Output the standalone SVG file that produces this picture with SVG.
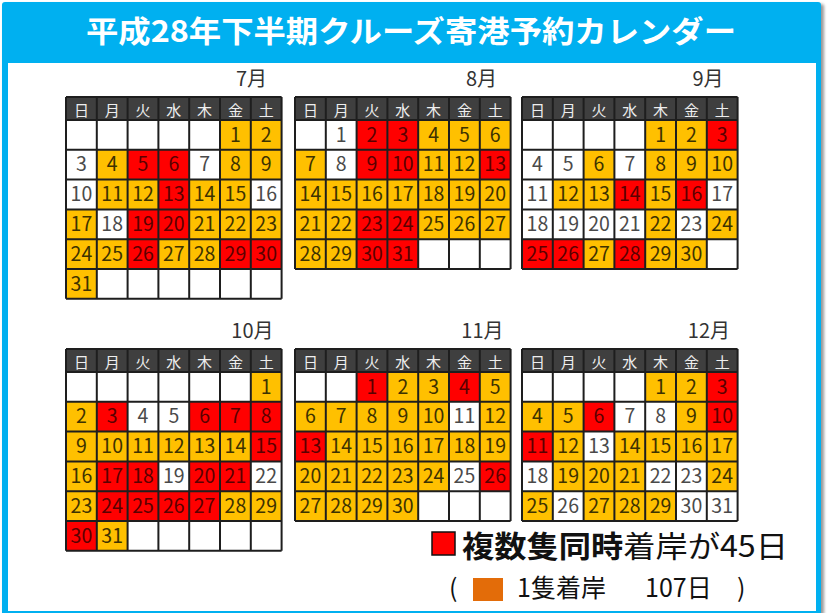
<svg xmlns="http://www.w3.org/2000/svg" xmlns:xlink="http://www.w3.org/1999/xlink" width="827" height="613" viewBox="0 0 827 613">
<style>
.o{fill:#FFC000}
.r{fill:#FF0000}
.bg{fill:#fff}
.gl{fill:none;stroke:#1e1e1e;stroke-width:2}
.hd{font-family:"Noto Sans CJK JP",sans-serif;font-size:15px;fill:#eeeeee;text-anchor:middle}
.tw,.to,.tr{font-family:"Noto Sans CJK JP",sans-serif;font-size:19.5px;text-anchor:middle}
.tw{fill:#4a4a4a}
.to{fill:#3d3200}
.tr{fill:#5a0000}
.mo{font-family:"Noto Sans CJK JP",sans-serif;font-size:20px;fill:#333;text-anchor:end}
.lg{font-family:"Noto Sans CJK JP",sans-serif;fill:#111}
</style>
<defs>
<g id="hdr"><rect width="215.6" height="23" fill="#3f3f3f"/><text class="hd" x="15.4 46.2 77 107.8 138.6 169.4 200.2" y="18.5">日月火水木金土</text></g>
<path id="g5" class="gl" d="M0 0V172M30.8 0V172M61.6 0V172M92.4 0V172M123.2 0V172M154 0V172M184.8 0V172M215.6 0V172M0 0H215.6M0 23H215.6M0 52.8H215.6M0 82.6H215.6M0 112.4H215.6M0 142.2H215.6M0 172H215.6"/>
<path id="g6" class="gl" d="M0 0V201.8M30.8 0V201.8M61.6 0V201.8M92.4 0V201.8M123.2 0V201.8M154 0V201.8M184.8 0V201.8M215.6 0V201.8M0 0H215.6M0 23H215.6M0 52.8H215.6M0 82.6H215.6M0 112.4H215.6M0 142.2H215.6M0 172H215.6M0 201.8H215.6"/>
<filter id="sh" x="-5%" y="-5%" width="110%" height="110%"><feGaussianBlur stdDeviation="1.5"/></filter>
</defs>

<g id="frame">
<rect x="4" y="4" width="820" height="612" rx="3" fill="#9a9a9a" filter="url(#sh)"/>
<rect x="2" y="2" width="819" height="615" rx="3" fill="#00B0F0"/>
<rect x="8" y="63" width="808" height="548" fill="#fff"/>
<text x="411" y="42" text-anchor="middle" font-family="Noto Sans CJK JP, sans-serif" font-weight="bold" font-size="30" fill="#fff" textLength="650" lengthAdjust="spacingAndGlyphs">平成28年下半期クルーズ寄港予約カレンダー</text>
</g>

<g id="jul">
<text class="mo" x="267" y="86">7月</text>
<g transform="translate(66,97)">
<rect class="bg" width="215.6" height="201.8"/>
<use xlink:href="#hdr"/>
<rect class="o" x="154" y="23" width="61.6" height="29.8"/>
<rect class="o" x="30.8" y="52.8" width="30.8" height="29.8"/>
<rect class="r" x="61.6" y="52.8" width="61.6" height="29.8"/>
<rect class="o" x="154" y="52.8" width="61.6" height="29.8"/>
<rect class="o" x="30.8" y="82.6" width="61.6" height="29.8"/>
<rect class="r" x="92.4" y="82.6" width="30.8" height="29.8"/>
<rect class="o" x="123.2" y="82.6" width="61.6" height="29.8"/>
<rect class="o" x="0" y="112.4" width="30.8" height="29.8"/>
<rect class="r" x="61.6" y="112.4" width="61.6" height="29.8"/>
<rect class="o" x="123.2" y="112.4" width="92.4" height="29.8"/>
<rect class="o" x="0" y="142.2" width="61.6" height="29.8"/>
<rect class="r" x="61.6" y="142.2" width="30.8" height="29.8"/>
<rect class="o" x="92.4" y="142.2" width="61.6" height="29.8"/>
<rect class="r" x="154" y="142.2" width="61.6" height="29.8"/>
<rect class="o" x="0" y="172" width="30.8" height="29.8"/>
<use xlink:href="#g6"/>
<text class="tw"><tspan x="15.4" y="74.4">3</tspan><tspan x="138.6" y="74.4">7</tspan><tspan x="15.4" y="104.2">10</tspan><tspan x="200.2" y="104.2">16</tspan><tspan x="46.2" y="134">18</tspan></text>
<text class="to"><tspan x="169.4" y="44.6">1</tspan><tspan x="200.2" y="44.6">2</tspan><tspan x="46.2" y="74.4">4</tspan><tspan x="169.4" y="74.4">8</tspan><tspan x="200.2" y="74.4">9</tspan><tspan x="46.2" y="104.2">11</tspan><tspan x="77" y="104.2">12</tspan><tspan x="138.6" y="104.2">14</tspan><tspan x="169.4" y="104.2">15</tspan><tspan x="15.4" y="134">17</tspan><tspan x="138.6" y="134">21</tspan><tspan x="169.4" y="134">22</tspan><tspan x="200.2" y="134">23</tspan><tspan x="15.4" y="163.8">24</tspan><tspan x="46.2" y="163.8">25</tspan><tspan x="107.8" y="163.8">27</tspan><tspan x="138.6" y="163.8">28</tspan><tspan x="15.4" y="193.6">31</tspan></text>
<text class="tr"><tspan x="77" y="74.4">5</tspan><tspan x="107.8" y="74.4">6</tspan><tspan x="107.8" y="104.2">13</tspan><tspan x="77" y="134">19</tspan><tspan x="107.8" y="134">20</tspan><tspan x="77" y="163.8">26</tspan><tspan x="169.4" y="163.8">29</tspan><tspan x="200.2" y="163.8">30</tspan></text>
</g>
</g>

<g id="aug">
<text class="mo" x="497" y="86">8月</text>
<g transform="translate(295,97)">
<rect class="bg" width="215.6" height="172"/>
<use xlink:href="#hdr"/>
<rect class="r" x="61.6" y="23" width="61.6" height="29.8"/>
<rect class="o" x="123.2" y="23" width="92.4" height="29.8"/>
<rect class="o" x="0" y="52.8" width="30.8" height="29.8"/>
<rect class="r" x="61.6" y="52.8" width="61.6" height="29.8"/>
<rect class="o" x="123.2" y="52.8" width="61.6" height="29.8"/>
<rect class="r" x="184.8" y="52.8" width="30.8" height="29.8"/>
<rect class="o" x="0" y="82.6" width="215.6" height="29.8"/>
<rect class="o" x="0" y="112.4" width="61.6" height="29.8"/>
<rect class="r" x="61.6" y="112.4" width="61.6" height="29.8"/>
<rect class="o" x="123.2" y="112.4" width="92.4" height="29.8"/>
<rect class="o" x="0" y="142.2" width="61.6" height="29.8"/>
<rect class="r" x="61.6" y="142.2" width="61.6" height="29.8"/>
<use xlink:href="#g5"/>
<text class="tw"><tspan x="46.2" y="44.6">1</tspan><tspan x="46.2" y="74.4">8</tspan></text>
<text class="to"><tspan x="138.6" y="44.6">4</tspan><tspan x="169.4" y="44.6">5</tspan><tspan x="200.2" y="44.6">6</tspan><tspan x="15.4" y="74.4">7</tspan><tspan x="138.6" y="74.4">11</tspan><tspan x="169.4" y="74.4">12</tspan><tspan x="15.4" y="104.2">14</tspan><tspan x="46.2" y="104.2">15</tspan><tspan x="77" y="104.2">16</tspan><tspan x="107.8" y="104.2">17</tspan><tspan x="138.6" y="104.2">18</tspan><tspan x="169.4" y="104.2">19</tspan><tspan x="200.2" y="104.2">20</tspan><tspan x="15.4" y="134">21</tspan><tspan x="46.2" y="134">22</tspan><tspan x="138.6" y="134">25</tspan><tspan x="169.4" y="134">26</tspan><tspan x="200.2" y="134">27</tspan><tspan x="15.4" y="163.8">28</tspan><tspan x="46.2" y="163.8">29</tspan></text>
<text class="tr"><tspan x="77" y="44.6">2</tspan><tspan x="107.8" y="44.6">3</tspan><tspan x="77" y="74.4">9</tspan><tspan x="107.8" y="74.4">10</tspan><tspan x="200.2" y="74.4">13</tspan><tspan x="77" y="134">23</tspan><tspan x="107.8" y="134">24</tspan><tspan x="77" y="163.8">30</tspan><tspan x="107.8" y="163.8">31</tspan></text>
</g>
</g>

<g id="sep">
<text class="mo" x="723.5" y="86">9月</text>
<g transform="translate(522,97)">
<rect class="bg" width="215.6" height="172"/>
<use xlink:href="#hdr"/>
<rect class="o" x="123.2" y="23" width="61.6" height="29.8"/>
<rect class="r" x="184.8" y="23" width="30.8" height="29.8"/>
<rect class="o" x="61.6" y="52.8" width="30.8" height="29.8"/>
<rect class="o" x="123.2" y="52.8" width="92.4" height="29.8"/>
<rect class="o" x="30.8" y="82.6" width="61.6" height="29.8"/>
<rect class="r" x="92.4" y="82.6" width="30.8" height="29.8"/>
<rect class="o" x="123.2" y="82.6" width="30.8" height="29.8"/>
<rect class="r" x="154" y="82.6" width="30.8" height="29.8"/>
<rect class="o" x="123.2" y="112.4" width="30.8" height="29.8"/>
<rect class="o" x="184.8" y="112.4" width="30.8" height="29.8"/>
<rect class="r" x="0" y="142.2" width="61.6" height="29.8"/>
<rect class="o" x="61.6" y="142.2" width="30.8" height="29.8"/>
<rect class="r" x="92.4" y="142.2" width="30.8" height="29.8"/>
<rect class="o" x="123.2" y="142.2" width="61.6" height="29.8"/>
<use xlink:href="#g5"/>
<text class="tw"><tspan x="15.4" y="74.4">4</tspan><tspan x="46.2" y="74.4">5</tspan><tspan x="107.8" y="74.4">7</tspan><tspan x="15.4" y="104.2">11</tspan><tspan x="200.2" y="104.2">17</tspan><tspan x="15.4" y="134">18</tspan><tspan x="46.2" y="134">19</tspan><tspan x="77" y="134">20</tspan><tspan x="107.8" y="134">21</tspan><tspan x="169.4" y="134">23</tspan></text>
<text class="to"><tspan x="138.6" y="44.6">1</tspan><tspan x="169.4" y="44.6">2</tspan><tspan x="77" y="74.4">6</tspan><tspan x="138.6" y="74.4">8</tspan><tspan x="169.4" y="74.4">9</tspan><tspan x="200.2" y="74.4">10</tspan><tspan x="46.2" y="104.2">12</tspan><tspan x="77" y="104.2">13</tspan><tspan x="138.6" y="104.2">15</tspan><tspan x="138.6" y="134">22</tspan><tspan x="200.2" y="134">24</tspan><tspan x="77" y="163.8">27</tspan><tspan x="138.6" y="163.8">29</tspan><tspan x="169.4" y="163.8">30</tspan></text>
<text class="tr"><tspan x="200.2" y="44.6">3</tspan><tspan x="107.8" y="104.2">14</tspan><tspan x="169.4" y="104.2">16</tspan><tspan x="15.4" y="163.8">25</tspan><tspan x="46.2" y="163.8">26</tspan><tspan x="107.8" y="163.8">28</tspan></text>
</g>
</g>

<g id="oct">
<text class="mo" x="273.5" y="338">10月</text>
<g transform="translate(66,349)">
<rect class="bg" width="215.6" height="201.8"/>
<use xlink:href="#hdr"/>
<rect class="o" x="184.8" y="23" width="30.8" height="29.8"/>
<rect class="o" x="0" y="52.8" width="30.8" height="29.8"/>
<rect class="r" x="30.8" y="52.8" width="30.8" height="29.8"/>
<rect class="r" x="123.2" y="52.8" width="92.4" height="29.8"/>
<rect class="o" x="0" y="82.6" width="184.8" height="29.8"/>
<rect class="r" x="184.8" y="82.6" width="30.8" height="29.8"/>
<rect class="o" x="0" y="112.4" width="30.8" height="29.8"/>
<rect class="r" x="30.8" y="112.4" width="61.6" height="29.8"/>
<rect class="r" x="123.2" y="112.4" width="61.6" height="29.8"/>
<rect class="o" x="0" y="142.2" width="30.8" height="29.8"/>
<rect class="r" x="30.8" y="142.2" width="123.2" height="29.8"/>
<rect class="o" x="154" y="142.2" width="61.6" height="29.8"/>
<rect class="r" x="0" y="172" width="30.8" height="29.8"/>
<rect class="o" x="30.8" y="172" width="30.8" height="29.8"/>
<use xlink:href="#g6"/>
<text class="tw"><tspan x="77" y="74.4">4</tspan><tspan x="107.8" y="74.4">5</tspan><tspan x="107.8" y="134">19</tspan><tspan x="200.2" y="134">22</tspan></text>
<text class="to"><tspan x="200.2" y="44.6">1</tspan><tspan x="15.4" y="74.4">2</tspan><tspan x="15.4" y="104.2">9</tspan><tspan x="46.2" y="104.2">10</tspan><tspan x="77" y="104.2">11</tspan><tspan x="107.8" y="104.2">12</tspan><tspan x="138.6" y="104.2">13</tspan><tspan x="169.4" y="104.2">14</tspan><tspan x="15.4" y="134">16</tspan><tspan x="15.4" y="163.8">23</tspan><tspan x="169.4" y="163.8">28</tspan><tspan x="200.2" y="163.8">29</tspan><tspan x="46.2" y="193.6">31</tspan></text>
<text class="tr"><tspan x="46.2" y="74.4">3</tspan><tspan x="138.6" y="74.4">6</tspan><tspan x="169.4" y="74.4">7</tspan><tspan x="200.2" y="74.4">8</tspan><tspan x="200.2" y="104.2">15</tspan><tspan x="46.2" y="134">17</tspan><tspan x="77" y="134">18</tspan><tspan x="138.6" y="134">20</tspan><tspan x="169.4" y="134">21</tspan><tspan x="46.2" y="163.8">24</tspan><tspan x="77" y="163.8">25</tspan><tspan x="107.8" y="163.8">26</tspan><tspan x="138.6" y="163.8">27</tspan><tspan x="15.4" y="193.6">30</tspan></text>
</g>
</g>

<g id="nov">
<text class="mo" x="503.5" y="338">11月</text>
<g transform="translate(295,349)">
<rect class="bg" width="215.6" height="172"/>
<use xlink:href="#hdr"/>
<rect class="r" x="61.6" y="23" width="30.8" height="29.8"/>
<rect class="o" x="92.4" y="23" width="61.6" height="29.8"/>
<rect class="r" x="154" y="23" width="30.8" height="29.8"/>
<rect class="o" x="184.8" y="23" width="30.8" height="29.8"/>
<rect class="o" x="0" y="52.8" width="154" height="29.8"/>
<rect class="o" x="184.8" y="52.8" width="30.8" height="29.8"/>
<rect class="r" x="0" y="82.6" width="30.8" height="29.8"/>
<rect class="o" x="30.8" y="82.6" width="184.8" height="29.8"/>
<rect class="o" x="0" y="112.4" width="154" height="29.8"/>
<rect class="r" x="184.8" y="112.4" width="30.8" height="29.8"/>
<rect class="o" x="0" y="142.2" width="123.2" height="29.8"/>
<use xlink:href="#g5"/>
<text class="tw"><tspan x="169.4" y="74.4">11</tspan><tspan x="169.4" y="134">25</tspan></text>
<text class="to"><tspan x="107.8" y="44.6">2</tspan><tspan x="138.6" y="44.6">3</tspan><tspan x="200.2" y="44.6">5</tspan><tspan x="15.4" y="74.4">6</tspan><tspan x="46.2" y="74.4">7</tspan><tspan x="77" y="74.4">8</tspan><tspan x="107.8" y="74.4">9</tspan><tspan x="138.6" y="74.4">10</tspan><tspan x="200.2" y="74.4">12</tspan><tspan x="46.2" y="104.2">14</tspan><tspan x="77" y="104.2">15</tspan><tspan x="107.8" y="104.2">16</tspan><tspan x="138.6" y="104.2">17</tspan><tspan x="169.4" y="104.2">18</tspan><tspan x="200.2" y="104.2">19</tspan><tspan x="15.4" y="134">20</tspan><tspan x="46.2" y="134">21</tspan><tspan x="77" y="134">22</tspan><tspan x="107.8" y="134">23</tspan><tspan x="138.6" y="134">24</tspan><tspan x="15.4" y="163.8">27</tspan><tspan x="46.2" y="163.8">28</tspan><tspan x="77" y="163.8">29</tspan><tspan x="107.8" y="163.8">30</tspan></text>
<text class="tr"><tspan x="77" y="44.6">1</tspan><tspan x="169.4" y="44.6">4</tspan><tspan x="15.4" y="104.2">13</tspan><tspan x="200.2" y="134">26</tspan></text>
</g>
</g>

<g id="dec">
<text class="mo" x="730" y="338">12月</text>
<g transform="translate(522,349)">
<rect class="bg" width="215.6" height="172"/>
<use xlink:href="#hdr"/>
<rect class="o" x="123.2" y="23" width="61.6" height="29.8"/>
<rect class="r" x="184.8" y="23" width="30.8" height="29.8"/>
<rect class="o" x="0" y="52.8" width="61.6" height="29.8"/>
<rect class="r" x="61.6" y="52.8" width="30.8" height="29.8"/>
<rect class="o" x="154" y="52.8" width="30.8" height="29.8"/>
<rect class="r" x="184.8" y="52.8" width="30.8" height="29.8"/>
<rect class="r" x="0" y="82.6" width="30.8" height="29.8"/>
<rect class="o" x="30.8" y="82.6" width="30.8" height="29.8"/>
<rect class="o" x="92.4" y="82.6" width="123.2" height="29.8"/>
<rect class="o" x="30.8" y="112.4" width="92.4" height="29.8"/>
<rect class="o" x="184.8" y="112.4" width="30.8" height="29.8"/>
<rect class="o" x="0" y="142.2" width="30.8" height="29.8"/>
<rect class="o" x="61.6" y="142.2" width="92.4" height="29.8"/>
<use xlink:href="#g5"/>
<text class="tw"><tspan x="107.8" y="74.4">7</tspan><tspan x="138.6" y="74.4">8</tspan><tspan x="77" y="104.2">13</tspan><tspan x="15.4" y="134">18</tspan><tspan x="138.6" y="134">22</tspan><tspan x="169.4" y="134">23</tspan><tspan x="46.2" y="163.8">26</tspan><tspan x="169.4" y="163.8">30</tspan><tspan x="200.2" y="163.8">31</tspan></text>
<text class="to"><tspan x="138.6" y="44.6">1</tspan><tspan x="169.4" y="44.6">2</tspan><tspan x="15.4" y="74.4">4</tspan><tspan x="46.2" y="74.4">5</tspan><tspan x="169.4" y="74.4">9</tspan><tspan x="46.2" y="104.2">12</tspan><tspan x="107.8" y="104.2">14</tspan><tspan x="138.6" y="104.2">15</tspan><tspan x="169.4" y="104.2">16</tspan><tspan x="200.2" y="104.2">17</tspan><tspan x="46.2" y="134">19</tspan><tspan x="77" y="134">20</tspan><tspan x="107.8" y="134">21</tspan><tspan x="200.2" y="134">24</tspan><tspan x="15.4" y="163.8">25</tspan><tspan x="77" y="163.8">27</tspan><tspan x="107.8" y="163.8">28</tspan><tspan x="138.6" y="163.8">29</tspan></text>
<text class="tr"><tspan x="200.2" y="44.6">3</tspan><tspan x="77" y="74.4">6</tspan><tspan x="200.2" y="74.4">10</tspan><tspan x="15.4" y="104.2">11</tspan></text>
</g>
</g>

<g id="legend">
<rect x="432" y="532" width="23" height="23" fill="#FF0000" stroke="#111" stroke-width="1.5"/>
<text class="lg" x="462" y="557" font-size="30" textLength="326" lengthAdjust="spacingAndGlyphs"><tspan font-weight="bold">複数隻同時</tspan>着岸が45日</text>
<text class="lg" x="449" y="597" font-size="25">(</text>
<rect x="473" y="578" width="30" height="23" fill="#E36C09"/>
<text class="lg" x="517" y="597" font-size="25">1隻着岸</text>
<text class="lg" x="645" y="597" font-size="25">107日</text>
<text class="lg" x="737" y="597" font-size="25">)</text>
</g>
</svg>
